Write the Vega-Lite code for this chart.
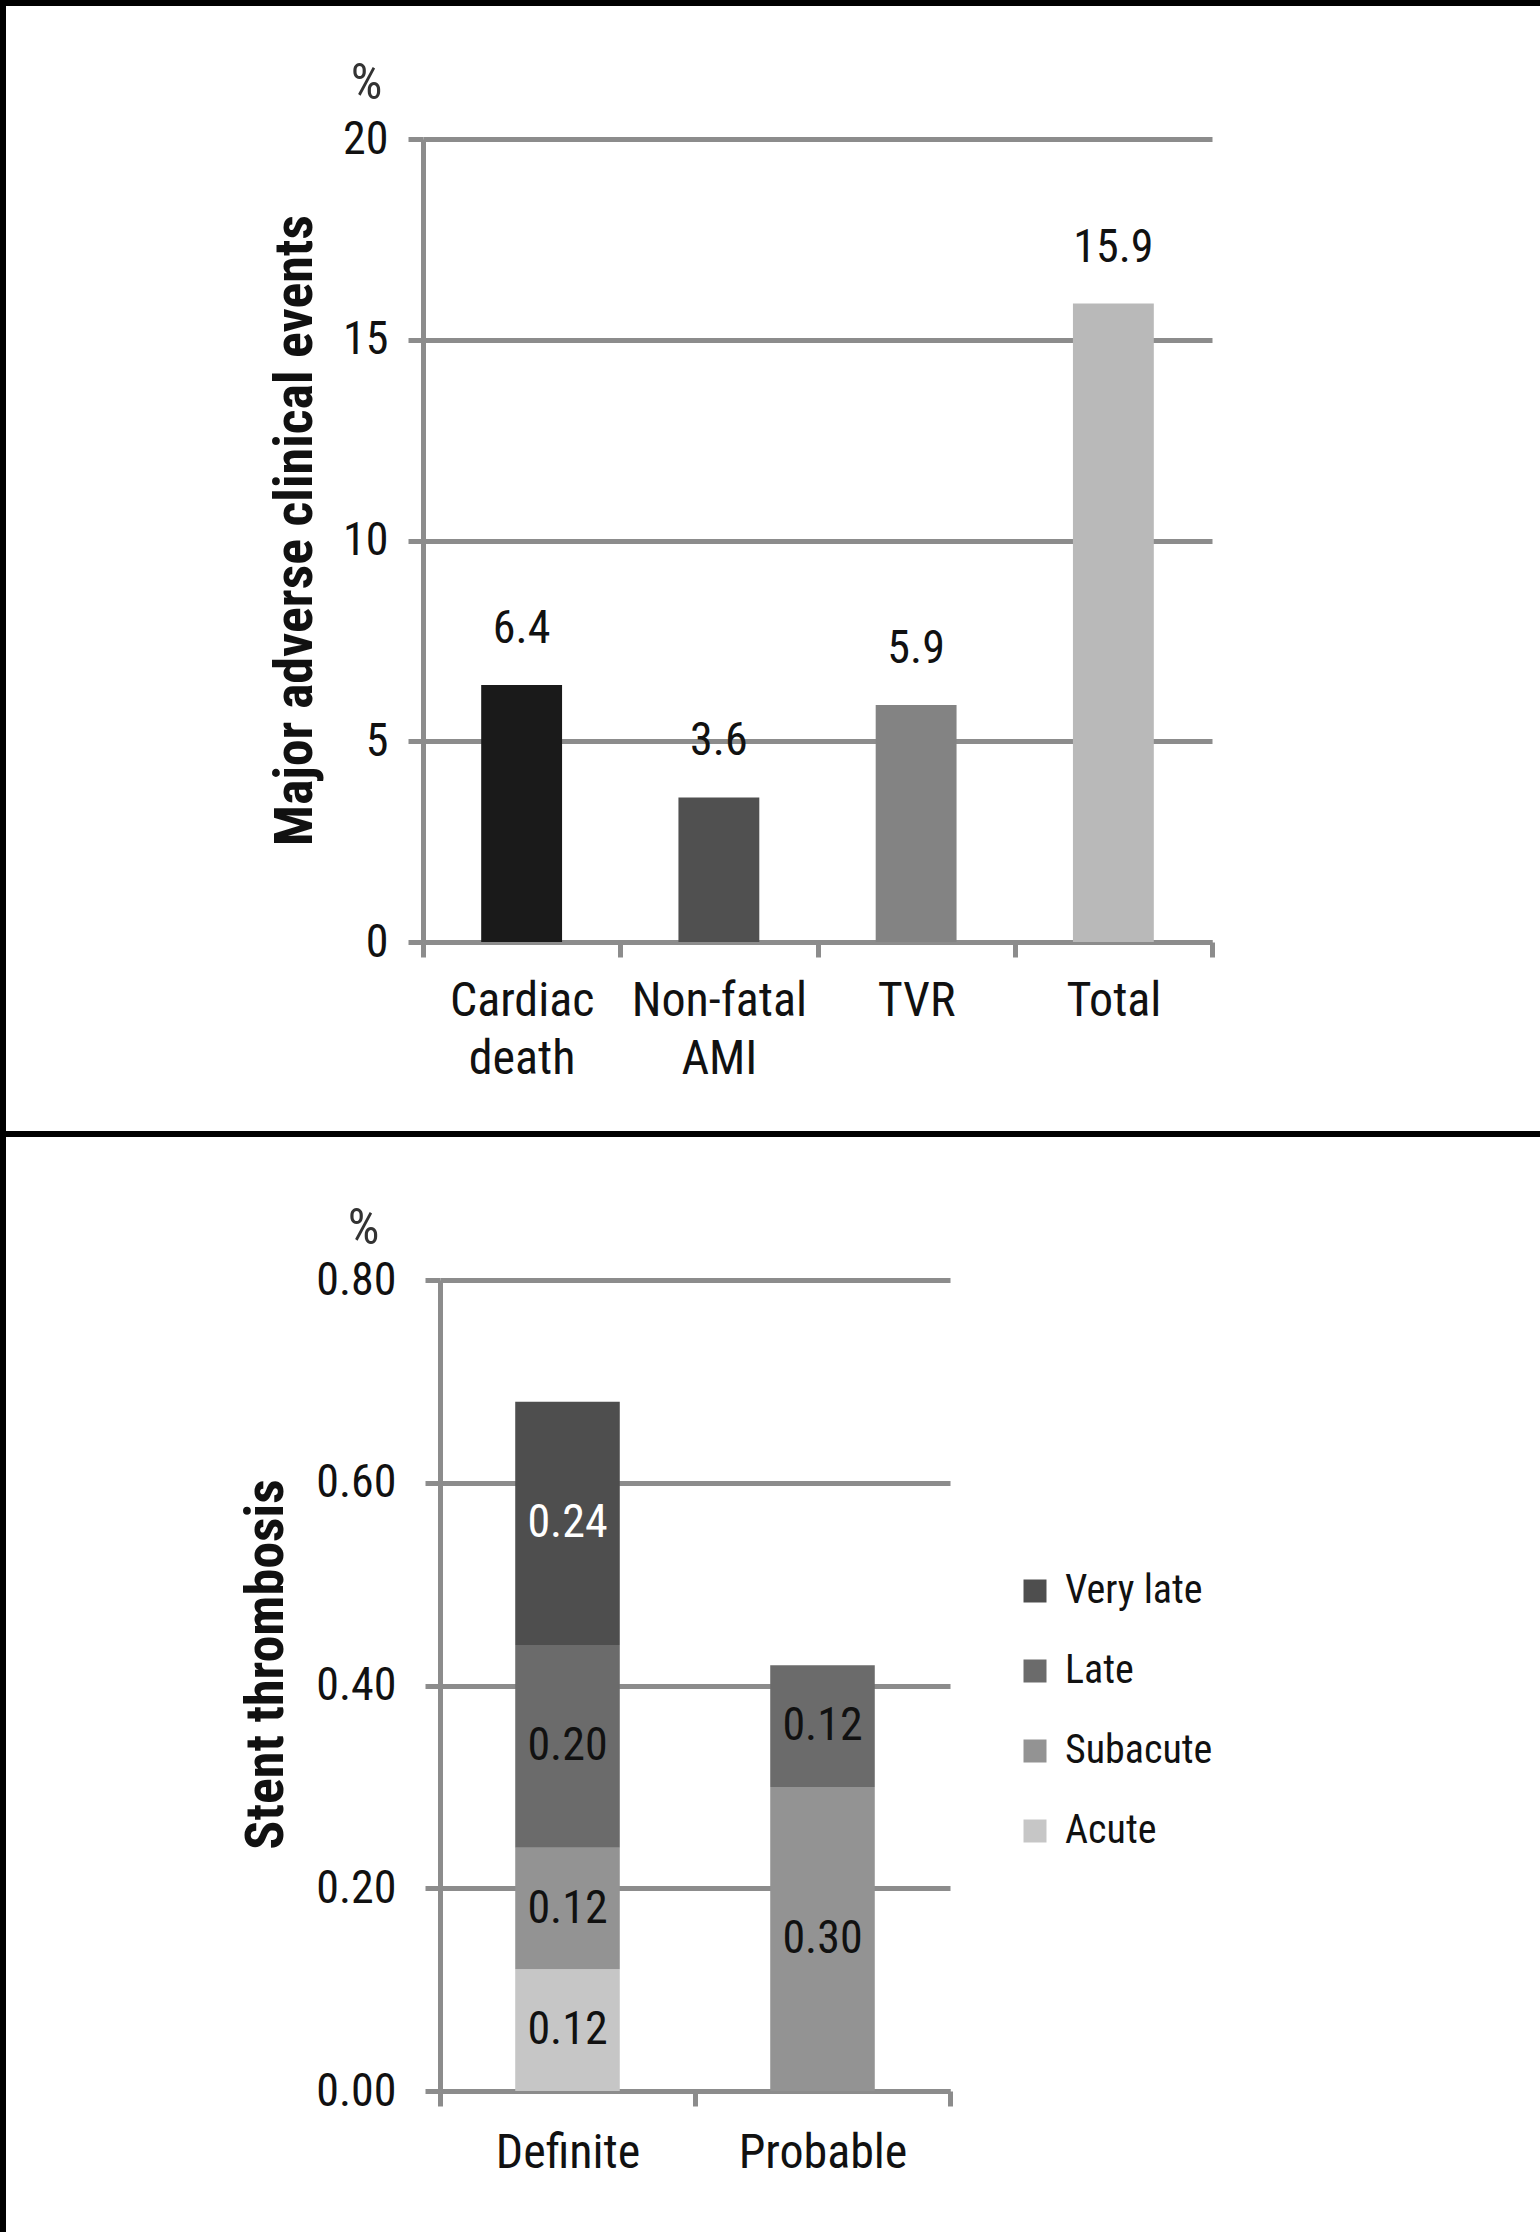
{
  "$schema": "https://vega.github.io/schema/vega-lite/v6.json",
  "padding": 0,
  "background": "white",
  "spacing": 0,
  "bounds": "flush",
  "resolve": {
    "scale": {"color": "independent", "x": "independent", "y": "independent"},
    "legend": {"color": "independent"}
  },
  "vconcat": [
    {
      "width": 1540,
      "height": 1131,
      "data": {
        "values": [
          {"event": "Cardiac death", "value": 6.4},
          {"event": "Non-fatal AMI", "value": 3.6},
          {"event": "TVR", "value": 5.9},
          {"event": "Total", "value": 15.9}
        ]
      },
      "encoding": {
        "x": {
          "field": "event", "type": "nominal", "sort": null,
          "scale": {"range": [420, 1209], "paddingInner": 0, "paddingOuter": 0},
          "axis": {
            "offset": -192, "tickBand": "extent", "grid": false,
            "labelExpr": "datum.value ? split(datum.value, ' ') : ''", "labelAngle": 0,
            "labelFontSize": 48, "labelPadding": 20, "labelLineHeight": 58,
            "title": "Major adverse clinical events", "titleAngle": 270,
            "titleX": 292, "titleY": -412, "titleAlign": "center", "titleBaseline": "middle",
            "titleFontWeight": "bold", "titleFontSize": 54
          }
        },
        "y": {
          "field": "value", "type": "quantitative",
          "scale": {"domain": [0, 20], "range": [939, 136], "nice": false},
          "axis": {
            "offset": -420, "values": [0, 5, 10, 15, 20], "grid": true, "labelPadding": 20,
            "title": "%", "titleAngle": 0, "titleX": -57, "titleY": 80,
            "titleAlign": "center", "titleBaseline": "middle",
            "titleFontWeight": "normal", "titleFontSize": 50, "titleColor": "#333"
          }
        }
      },
      "layer": [
        {
          "mark": {"type": "bar", "width": {"band": 0.41}},
          "encoding": {
            "color": {
              "field": "event", "type": "nominal",
              "scale": {
                "domain": ["Cardiac death", "Non-fatal AMI", "TVR", "Total"],
                "range": ["#1a1a1a", "#505050", "#838383", "#b9b9b9"]
              },
              "legend": null
            }
          }
        },
        {
          "mark": {"type": "text", "baseline": "alphabetic", "dy": -42, "fontSize": 46, "color": "#111"},
          "encoding": {
            "text": {"field": "value", "type": "quantitative", "format": ".1f"}
          }
        }
      ]
    },
    {
      "width": 1540,
      "height": 1101,
      "data": {
        "values": [
          {"type": "Definite", "stage": "Acute", "onset": 1, "value": 0.12},
          {"type": "Definite", "stage": "Subacute", "onset": 2, "value": 0.12},
          {"type": "Definite", "stage": "Late", "onset": 3, "value": 0.20},
          {"type": "Definite", "stage": "Very late", "onset": 4, "value": 0.24},
          {"type": "Probable", "stage": "Subacute", "onset": 2, "value": 0.30},
          {"type": "Probable", "stage": "Late", "onset": 3, "value": 0.12}
        ]
      },
      "encoding": {
        "x": {
          "field": "type", "type": "nominal", "sort": null,
          "scale": {"range": [437, 947], "paddingInner": 0, "paddingOuter": 0},
          "axis": {
            "offset": -144, "tickBand": "extent", "grid": false, "labelAngle": 0,
            "labelExpr": "datum.value ? datum.value : ''",
            "labelFontSize": 48, "labelPadding": 23,
            "title": "Stent thrombosis", "titleAngle": 270,
            "titleX": 263, "titleY": -427, "titleAlign": "center", "titleBaseline": "middle",
            "titleFontWeight": "bold", "titleFontSize": 54
          }
        },
        "order": {"field": "onset", "type": "quantitative", "sort": "ascending"}
      },
      "layer": [
        {
          "mark": {"type": "bar", "width": {"band": 0.41}},
          "encoding": {
            "y": {
              "field": "value", "type": "quantitative", "stack": "zero",
              "scale": {"domain": [0, 0.8], "range": [957, 146], "nice": false},
              "axis": {
                "offset": -437, "values": [0, 0.2, 0.4, 0.6, 0.8], "format": ".2f",
                "grid": true, "labelPadding": 29,
                "title": "%", "titleAngle": 0, "titleX": -77, "titleY": 94,
                "titleAlign": "center", "titleBaseline": "middle",
                "titleFontWeight": "normal", "titleFontSize": 50, "titleColor": "#333"
              }
            },
            "color": {
              "field": "stage", "type": "nominal",
              "scale": {
                "domain": ["Very late", "Late", "Subacute", "Acute"],
                "range": ["#4e4e4e", "#6b6b6b", "#939393", "#c6c6c6"]
              },
              "legend": {
                "orient": "none", "legendX": 1012, "legendY": 437, "title": null,
                "symbolType": "square", "symbolSize": 529, "symbolStrokeWidth": 0,
                "symbolOpacity": 1, "labelFontSize": 40, "labelOffset": 10,
                "rowPadding": 40, "padding": 0, "labelLimit": 400
              }
            }
          }
        },
        {
          "mark": {"type": "text", "baseline": "middle", "fontSize": 46},
          "encoding": {
            "y": {
              "field": "value", "type": "quantitative", "stack": "zero", "bandPosition": 0.5,
              "scale": {"domain": [0, 0.8], "range": [957, 146], "nice": false},
              "axis": {
                "offset": -437, "values": [0, 0.2, 0.4, 0.6, 0.8], "format": ".2f",
                "grid": true, "labelPadding": 29,
                "title": "%", "titleAngle": 0, "titleX": -77, "titleY": 94,
                "titleAlign": "center", "titleBaseline": "middle",
                "titleFontWeight": "normal", "titleFontSize": 50, "titleColor": "#333"
              }
            },
            "detail": {"field": "stage"},
            "text": {"field": "value", "type": "quantitative", "format": ".2f"},
            "color": {
              "condition": {"test": "datum.stage === 'Very late'", "value": "white"},
              "value": "#111"
            }
          }
        }
      ]
    }
  ],
  "config": {
    "font": "Roboto Condensed, Liberation Sans, sans-serif",
    "view": {"stroke": "black", "strokeWidth": 6},
    "axis": {
      "domainColor": "#8c8c8c", "domainWidth": 5,
      "tickColor": "#8c8c8c", "tickWidth": 5, "tickSize": 15,
      "gridColor": "#8c8c8c", "gridWidth": 5,
      "labelColor": "#111", "labelFontSize": 46, "labelLimit": 400,
      "titleColor": "#111", "titleLimit": 1000,
      "labelFont": "Roboto Condensed, Liberation Sans, sans-serif",
      "titleFont": "Roboto Condensed, Liberation Sans, sans-serif"
    },
    "legend": {
      "labelFont": "Roboto Condensed, Liberation Sans, sans-serif",
      "labelColor": "#111"
    },
    "text": {"font": "Roboto Condensed, Liberation Sans, sans-serif"}
  }
}
